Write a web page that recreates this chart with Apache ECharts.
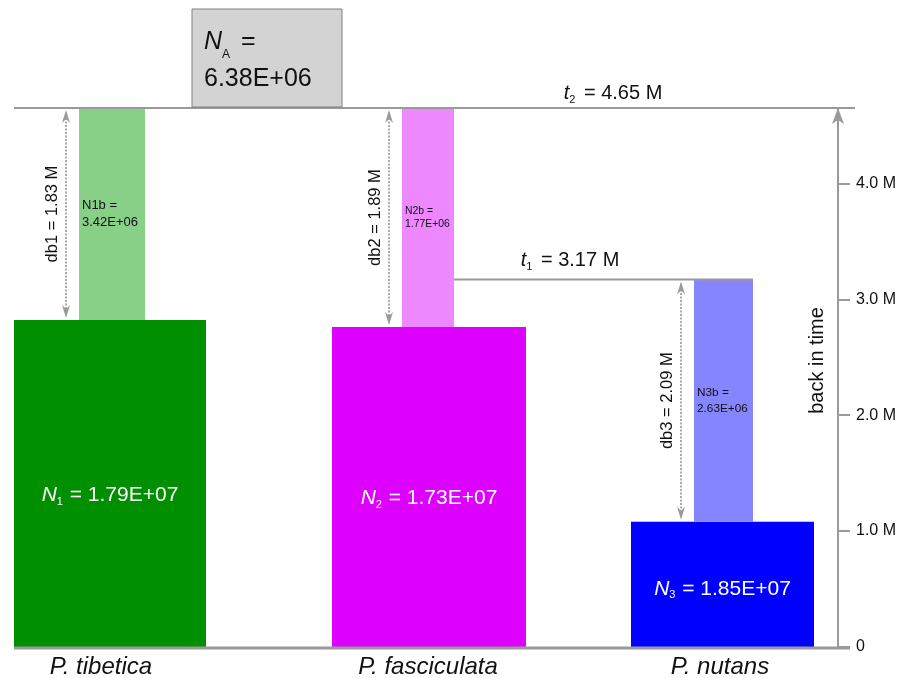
<!DOCTYPE html>
<html>
<head>
<meta charset="utf-8">
<script src="https://cdn.jsdelivr.net/npm/echarts@6/dist/echarts.min.js"></script>
<style>
  html, body { margin: 0; padding: 0; background: #fff; }
  #chart { width: 909px; height: 678px; }
</style>
</head>
<body>
<div id="chart"></div>
<script>
// Sampled populations (tips of the tree)
const populations = ['P. tibetica', 'P. fasciculata', 'P. nutans'];
// Present-day effective sizes N1..N3
const currentSizes = [1.79e7, 1.73e7, 1.85e7];
// Bottleneck sizes N1b..N3b
const bottleneckSizes = [3.42e6, 1.77e6, 2.63e6];
// Bottleneck durations db1..db3, in million years
const bottleneckDurations = [1.83, 1.89, 2.09];
// Split times t1, t2, in million years before present
const splitTimes = [3.17, 4.65];
// Split each lineage starts from (index into splitTimes)
const lineageOrigin = [1, 1, 0];
// Ancestral population size
const ancestralSize = 6.38e6;
// Time axis ticks, million years
const timeTicks = [0, 1, 2, 3, 4];
const timeAxisTitle = 'back in time';

// Horizontal layout (x-axis units = pixels from the left edge of the plot)
const LAYOUT = {
  base: [[0, 192], [318, 512], [617, 800]],
  neck: [[65, 131], [388, 440], [680, 739]],
  nameX: [87, 414, 706],
  t1LabelX: 556,
  t2LabelX: 599,
  width: 824
};
const baseColors = ['#008F00', '#DD00FF', '#0000FF'];
const neckColors = ['#88CF88', '#EE88FF', '#8585FF'];
const GREY = '#9a9a9a';
const FONT = '"Liberation Sans", Arial, Helvetica, sans-serif';

function sci(v) {
  const parts = v.toExponential(2).split('e');
  const e = +parts[1];
  return parts[0] + 'E' + (e < 0 ? '-' : '+') + String(Math.abs(e)).padStart(2, '0');
}

function arrowHead(x, yTip, dir) {
  // dir = 1 points up, -1 points down
  const h = 13 * dir, n = 9 * dir;
  return {
    type: 'polygon',
    shape: { points: [[x, yTip], [x - 4, yTip + h], [x, yTip + n], [x + 4, yTip + h]] },
    style: { fill: GREY }
  };
}

function renderLineage(params, api) {
  const i = params.dataIndex;
  const start = splitTimes[lineageOrigin[i]];
  const end = start - bottleneckDurations[i];
  const P = (u, t) => api.coord([u, t]);
  const yStart = P(0, start)[1];
  const yEnd = P(0, end)[1];
  const y0 = P(0, 0)[1];
  const bx0 = P(LAYOUT.base[i][0], 0)[0], bx1 = P(LAYOUT.base[i][1], 0)[0];
  const nx0 = P(LAYOUT.neck[i][0], 0)[0], nx1 = P(LAYOUT.neck[i][1], 0)[0];
  const ax = nx0 - 13;
  const neckW = nx1 - nx0;
  const nbFont = Math.min(13, neckW * 0.2);
  const children = [
    { type: 'rect', shape: { x: bx0, y: yEnd, width: bx1 - bx0, height: y0 - yEnd }, style: { fill: baseColors[i] } },
    { type: 'rect', shape: { x: nx0, y: yStart, width: neckW, height: yEnd - yStart }, style: { fill: neckColors[i] } },
    { type: 'line', shape: { x1: ax, y1: yStart + 10, x2: ax, y2: yEnd - 10 }, style: { stroke: '#aaaaaa', lineWidth: 2, lineDash: [2, 1.5] } },
    arrowHead(ax, yStart + 2, 1),
    arrowHead(ax, yEnd - 2, -1),
    {
      type: 'text', x: ax - 14, y: (yStart + yEnd) / 2, rotation: Math.PI / 2,
      style: { text: 'db' + (i + 1) + ' = ' + bottleneckDurations[i].toFixed(2) + ' M', fill: '#111', font: '16.5px ' + FONT, align: 'center', verticalAlign: 'middle' }
    },
    {
      type: 'text', x: nx0 + 3, y: (yStart + yEnd) / 2,
      style: { text: 'N' + (i + 1) + 'b =\n' + sci(bottleneckSizes[i]), fill: '#111', fontSize: nbFont, fontFamily: FONT, lineHeight: nbFont * 1.3, align: 'left', verticalAlign: 'middle' }
    },
    {
      type: 'text', x: (bx0 + bx1) / 2, y: yEnd + (y0 - yEnd) * 0.535,
      style: {
        text: '{n|N}{s|' + (i + 1) + '}{t| = ' + sci(currentSizes[i]) + '}',
        align: 'center', verticalAlign: 'middle',
        rich: {
          n: { fill: '#fff', fontSize: 21, fontStyle: 'italic', fontFamily: FONT, lineHeight: 24, verticalAlign: 'middle' },
          s: { fill: '#fff', fontSize: 11, fontFamily: FONT, lineHeight: 24, verticalAlign: 'bottom', padding: [0, 1, 0, 0] },
          t: { fill: '#fff', fontSize: 21, fontFamily: FONT, lineHeight: 24, verticalAlign: 'middle' }
        }
      }
    },
    {
      type: 'text', x: P(LAYOUT.nameX[i], 0)[0], y: y0 + 20,
      style: { text: populations[i], fill: '#111', font: 'italic 24px ' + FONT, align: 'center', verticalAlign: 'middle' }
    }
  ];
  return { type: 'group', children };
}

function renderEvents(params, api) {
  const P = (u, t) => api.coord([u, t]);
  const [t1, t2] = splitTimes;
  const y0 = P(0, 0)[1];
  const yT1 = P(0, t1)[1];
  const yT2 = P(0, t2)[1];
  const xL = P(0, 0)[0];
  const xR = P(LAYOUT.width, 0)[0];
  const c1 = (P(LAYOUT.neck[0][0], 0)[0] + P(LAYOUT.neck[0][1], 0)[0]) / 2;
  const c2 = (P(LAYOUT.neck[1][0], 0)[0] + P(LAYOUT.neck[1][1], 0)[0]) / 2;
  const boxW = 150, boxH = 98;
  const boxX = (c1 + c2) / 2 - boxW / 2 - 3;
  const tRich = {
    t: { fill: '#111', fontSize: 20, fontStyle: 'italic', fontFamily: FONT, lineHeight: 24, verticalAlign: 'middle' },
    s: { fill: '#111', fontSize: 11, fontFamily: FONT, lineHeight: 24, verticalAlign: 'bottom', padding: [0, 3, 0, 0] },
    v: { fill: '#111', fontSize: 20, fontFamily: FONT, lineHeight: 24, verticalAlign: 'middle' }
  };
  const children = [
    // baseline (present)
    { type: 'line', shape: { x1: xL, y1: y0 + 1, x2: xR + 12, y2: y0 + 1 }, style: { stroke: GREY, lineWidth: 3 } },
    // split t2
    { type: 'line', shape: { x1: xL, y1: yT2, x2: xR + 17, y2: yT2 }, style: { stroke: GREY, lineWidth: 2 } },
    // split t1
    { type: 'line', shape: { x1: P(LAYOUT.neck[1][1], 0)[0], y1: yT1, x2: P(LAYOUT.neck[2][1], 0)[0], y2: yT1 }, style: { stroke: GREY, lineWidth: 2 } },
    {
      type: 'text', x: P(LAYOUT.t2LabelX, 0)[0], y: yT2 - 15,
      style: { text: '{t|t}{s|2}{v| = ' + t2.toFixed(2) + ' M}', align: 'center', verticalAlign: 'middle', rich: tRich }
    },
    {
      type: 'text', x: P(LAYOUT.t1LabelX, 0)[0], y: yT1 - 19,
      style: { text: '{t|t}{s|1}{v| = ' + t1.toFixed(2) + ' M}', align: 'center', verticalAlign: 'middle', rich: tRich }
    },
    // time axis title, just inside the axis line
    {
      type: 'text', x: xR - 21, y: (y0 + yT2) / 2 - 17, rotation: Math.PI / 2,
      style: { text: timeAxisTitle, fill: '#111', font: '20px ' + FONT, align: 'center', verticalAlign: 'middle' }
    },
    // ancestral population box
    { type: 'rect', shape: { x: boxX, y: yT2 - boxH - 1, width: boxW, height: boxH }, style: { fill: '#D3D3D3', stroke: '#808080', lineWidth: 1 } },
    {
      type: 'text', x: boxX + 12, y: yT2 - boxH + 14,
      style: {
        text: '{n|N}{s|A}{t| =}\n{t|' + sci(ancestralSize) + '}',
        align: 'left', verticalAlign: 'top',
        rich: {
          n: { fill: '#111', fontSize: 25, fontStyle: 'italic', fontFamily: FONT, lineHeight: 37, verticalAlign: 'middle' },
          s: { fill: '#111', fontSize: 12, fontFamily: FONT, lineHeight: 37, verticalAlign: 'bottom', padding: [0, 4, 0, 0] },
          t: { fill: '#111', fontSize: 25, fontFamily: FONT, lineHeight: 37, verticalAlign: 'middle' }
        }
      }
    }
  ];
  return { type: 'group', children };
}

const chart = echarts.init(document.getElementById('chart'), null, { renderer: 'canvas' });
chart.setOption({
  backgroundColor: '#fff',
  animation: false,
  grid: { left: 14, right: 71, top: 108, bottom: 31, outerBoundsMode: 'none', containLabel: false },
  xAxis: { type: 'value', min: 0, max: LAYOUT.width, show: false },
  yAxis: {
    type: 'value',
    position: 'right',
    min: 0,
    max: splitTimes[1],
    interval: 1,
    axisLine: { show: true, onZero: false, symbol: ['none', 'arrow'], symbolSize: [9, 16], lineStyle: { color: GREY, width: 2 } },
    axisTick: { show: true, inside: false, length: 12, lineStyle: { color: GREY, width: 2 } },
    axisLabel: {
      margin: 18, color: '#111', fontSize: 16, fontFamily: FONT,
      showMaxLabel: false,
      formatter: v => (timeTicks.indexOf(v) === -1 ? '' : (v === 0 ? '0' : v.toFixed(1) + ' M'))
    },
    splitLine: { show: false }
  },
  series: [
    { type: 'custom', name: 'lineages', renderItem: renderLineage, data: populations.map((p, i) => [i]), silent: true, z: 2 },
    { type: 'custom', name: 'events', renderItem: renderEvents, data: [[0]], silent: true, z: 3 }
  ]
});
</script>
</body>
</html>
